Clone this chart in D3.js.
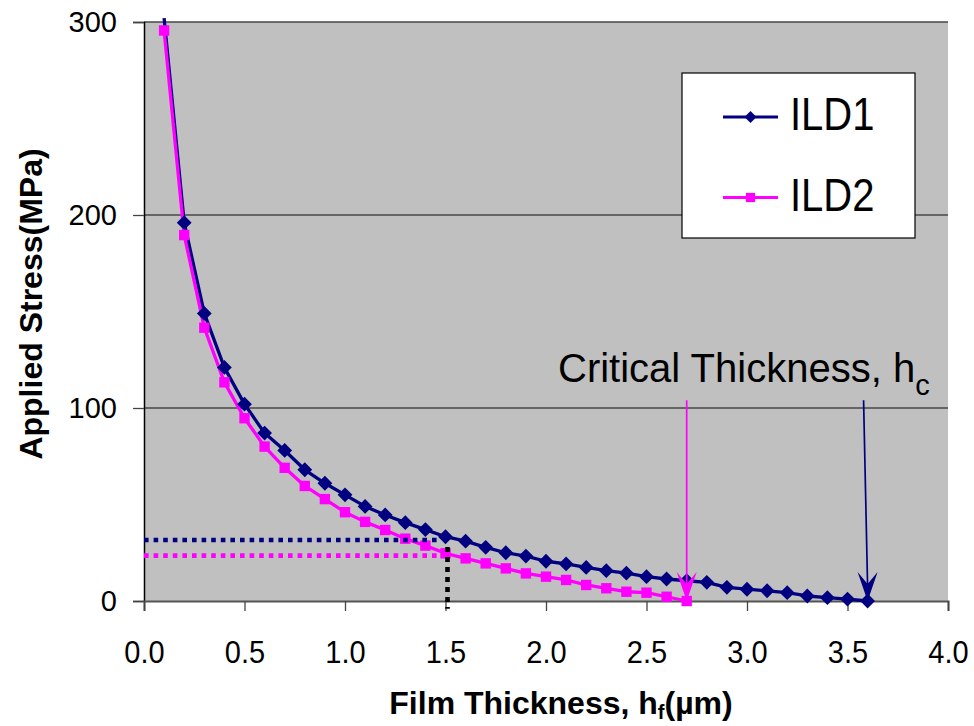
<!DOCTYPE html>
<html>
<head>
<meta charset="utf-8">
<script src="https://cdn.jsdelivr.net/npm/d3@7"></script>
<style>
  html, body { margin: 0; padding: 0; background: #ffffff; }
  svg { display: block; font-family: "Liberation Sans", Arial, sans-serif; }
</style>
</head>
<body>
<svg id="chart" width="974" height="726"></svg>
<script>
// ---------------- data ----------------
const thicknessILD1 = [0.1,0.2,0.3,0.4,0.5,0.6,0.7,0.8,0.9,1.0,1.1,1.2,1.3,1.4,1.5,1.6,1.7,1.8,1.9,2.0,2.1,2.2,2.3,2.4,2.5,2.6,2.7,2.8,2.9,3.0,3.1,3.2,3.3,3.4,3.5,3.6];
const stressILD1 = [302,196,149,121,102,87,78,68,61,55,49,44.6,40.6,37,33.3,31,27.8,25,23.3,20.6,19.2,17.4,15.7,14.4,12.6,11.4,10.5,9.7,7.1,6.1,5.3,4.3,2.6,1.7,1.0,0];
const thicknessILD2 = [0.1,0.2,0.3,0.4,0.5,0.6,0.7,0.8,0.9,1.0,1.1,1.2,1.3,1.4,1.5,1.6,1.7,1.8,1.9,2.0,2.1,2.2,2.3,2.4,2.5,2.6,2.7];
const stressILD2 = [295.6,189.6,141.6,113.3,94.7,80,69,59.6,52.8,46,41,36.8,32.3,28.7,24.7,22.1,19.5,16.9,14.3,12.6,10.9,8.3,6.6,4.8,4.3,2.2,0];

const seriesNames = ["ILD1", "ILD2"];
const xTicks = [0.0,0.5,1.0,1.5,2.0,2.5,3.0,3.5,4.0];
const yTicks = [0,100,200,300];
const xDomain = [0, 4];
const yDomain = [0, 300];

// reference (dotted) lines: readings at h = 1.5 um
const refThickness = 1.5;
const refStressILD1 = 31.6;
const refStressILD2 = 23.5;

// critical thickness arrows (data units)
const criticalArrows = [
  { series: "ILD2", x0: 2.7, y0: 104, x1: 2.7, y1: 0 },
  { series: "ILD1", x0: 3.58, y0: 104, x1: 3.6, y1: 0 }
];
const annotationText = "Critical Thickness, h";
const annotationSub = "c";
const xTitle = "Film Thickness, h";
const xTitleSub = "f";
const xTitleUnit = "(\u00b5m)";
const yTitle = "Applied Stress(MPa)";

// ---------------- styles ----------------
const colors = { ILD1: "#000080", ILD2: "#ff00ff" };
const plotBg = "#c0c0c0";
const FONT = "'Liberation Sans', Arial, sans-serif";

// ---------------- layout ----------------
const svg = d3.select("#chart");
const plot = { left: 144, right: 948, top: 22, bottom: 601 };

const x = d3.scaleLinear().domain(xDomain).range([plot.left, plot.right]);
const y = d3.scaleLinear().domain(yDomain).range([plot.bottom, plot.top]);

svg.append("rect").attr("width", 974).attr("height", 726).attr("fill", "#fff");

// plot area
svg.append("rect")
  .attr("x", plot.left).attr("y", plot.top)
  .attr("width", plot.right - plot.left).attr("height", plot.bottom - plot.top)
  .attr("fill", plotBg);

// gridlines
svg.append("g").selectAll("line")
  .data(yTicks.filter(d => d > 0))
  .join("line")
  .attr("x1", plot.left).attr("x2", plot.right)
  .attr("y1", d => y(d)).attr("y2", d => y(d))
  .attr("stroke", "#474747").attr("stroke-width", 1.3);

// axes
const yAxis = d3.axisLeft(y).tickValues(yTicks).tickFormat(d3.format("d")).tickSize(11).tickPadding(16);
const gy = svg.append("g").attr("transform", `translate(${plot.left},0)`).call(yAxis);
gy.select(".domain").attr("stroke", "#000").attr("stroke-width", 1.5);
gy.selectAll(".tick line").attr("stroke", "#444").attr("stroke-width", 1.3);
gy.selectAll(".tick text").attr("font-size", 29).attr("font-family", FONT).attr("fill", "#000");

const xAxis = d3.axisBottom(x).tickValues(xTicks).tickFormat(d3.format(".1f")).tickSize(10).tickPadding(27);
const gx = svg.append("g").attr("transform", `translate(0,${plot.bottom})`).call(xAxis);
gx.select(".domain").attr("stroke", "#555").attr("stroke-width", 2);
gx.selectAll(".tick line").attr("stroke", "#444").attr("stroke-width", 1.3);
gx.selectAll(".tick text").attr("font-size", 29).attr("font-family", FONT).attr("fill", "#000")
  .attr("transform", "scale(1,1.07)");

// marker shapes
const diamondPath = r => `M0,${-r}L${r},0L0,${r}L${-r},0Z`;
const squarePath = r => `M${-r},${-r}H${r}V${r}H${-r}Z`;

// series
const series = [
  { name: "ILD1", xs: thicknessILD1, ys: stressILD1, marker: "diamond" },
  { name: "ILD2", xs: thicknessILD2, ys: stressILD2, marker: "square" }
];
const line = d3.line().x(d => x(d[0])).y(d => y(d[1]));

series.forEach(s => {
  const pts = s.xs.map((v, i) => [v, s.ys[i]]);
  svg.append("path")
    .datum(pts)
    .attr("d", line)
    .attr("fill", "none")
    .attr("stroke", colors[s.name])
    .attr("stroke-width", 3.3)
    .attr("stroke-linejoin", "round");
});
series.forEach(s => {
  const pts = s.xs.map((v, i) => [v, s.ys[i]]).filter(p => p[1] <= yDomain[1]);
  svg.append("g").selectAll("path")
    .data(pts)
    .join("path")
    .attr("transform", d => `translate(${x(d[0])},${y(d[1])})`)
    .attr("d", s.marker === "diamond" ? diamondPath(7.4) : squarePath(5.2))
    .attr("fill", colors[s.name]);
});

// dotted reference lines
svg.append("line")
  .attr("x1", x(0)).attr("x2", x(refThickness - 0.04))
  .attr("y1", y(refStressILD1)).attr("y2", y(refStressILD1))
  .attr("stroke", colors.ILD1).attr("stroke-width", 4.6).attr("stroke-dasharray", "4.6 5");
svg.append("line")
  .attr("x1", x(0)).attr("x2", x(refThickness))
  .attr("y1", y(refStressILD2)).attr("y2", y(refStressILD2))
  .attr("stroke", colors.ILD2).attr("stroke-width", 4.6).attr("stroke-dasharray", "4.6 5");
svg.append("line")
  .attr("x1", x(refThickness) + 2).attr("x2", x(refThickness) + 2)
  .attr("y1", y(28)).attr("y2", y(-4))
  .attr("stroke", "#000").attr("stroke-width", 4.6).attr("stroke-dasharray", "5 5");

// critical thickness arrows
criticalArrows.forEach(a => {
  const tx = x(a.x1), ty = y(a.y1);
  svg.append("line")
    .attr("x1", x(a.x0)).attr("y1", y(a.y0))
    .attr("x2", tx).attr("y2", ty - 14)
    .attr("stroke", colors[a.series]).attr("stroke-width", 1.7);
  svg.append("path")
    .attr("d", `M${tx},${ty} L${tx - 10},${ty - 29} L${tx},${ty - 17} L${tx + 10},${ty - 29} Z`)
    .attr("fill", colors[a.series]);
});

// annotation
const ann = svg.append("text")
  .attr("x", 558).attr("y", 382)
  .attr("font-family", FONT)
  .attr("font-size", 40).attr("fill", "#000")
  .text(annotationText);
ann.append("tspan").attr("font-size", 29).attr("dy", 13).text(annotationSub);

// legend
const lg = svg.append("g");
lg.append("rect")
  .attr("x", 682).attr("y", 73).attr("width", 233).attr("height", 165)
  .attr("fill", "#fff").attr("stroke", "#000").attr("stroke-width", 1.2);
seriesNames.forEach((name, i) => {
  const cy = 117 + i * 80.5;
  lg.append("line").attr("x1", 723).attr("x2", 778).attr("y1", cy).attr("y2", cy)
    .attr("stroke", colors[name]).attr("stroke-width", 2.8);
  lg.append("path")
    .attr("transform", `translate(750.5,${cy})`)
    .attr("d", i === 0 ? diamondPath(6) : squarePath(4.6))
    .attr("fill", colors[name]);
  lg.append("text")
    .attr("transform", `translate(790,${cy + 13}) scale(1,1.15)`)
    .attr("font-family", FONT)
    .attr("font-size", 40).attr("fill", "#000")
    .text(name);
});

// axis titles
const xt = svg.append("text")
  .attr("x", 561).attr("y", 714)
  .attr("text-anchor", "middle")
  .attr("font-family", FONT)
  .attr("font-size", 32).attr("font-weight", "bold").attr("fill", "#000")
  .text(xTitle);
xt.append("tspan").attr("font-size", 20).attr("dy", 5).text(xTitleSub);
xt.append("tspan").attr("dy", -5).text(xTitleUnit);

svg.append("text")
  .attr("transform", `translate(42,304) rotate(-90)`)
  .attr("text-anchor", "middle")
  .attr("font-family", FONT)
  .attr("font-size", 32).attr("font-weight", "bold").attr("fill", "#000")
  .text(yTitle);
</script>
</body>
</html>
